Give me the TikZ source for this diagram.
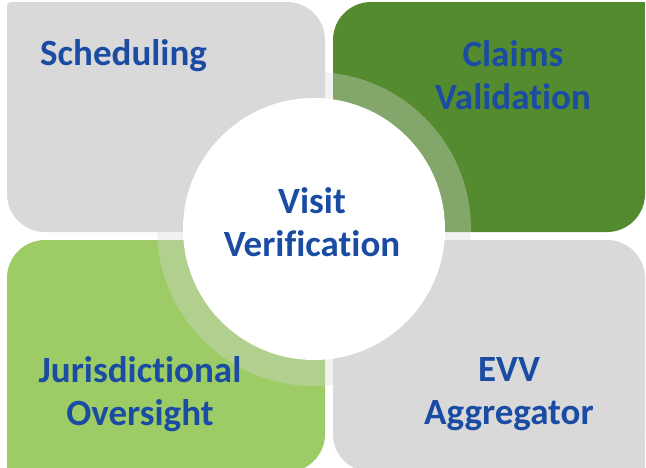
\documentclass[tikz,border=0pt]{standalone}
\usepackage{fontspec}
\setmainfont{Carlito}[Ligatures=NoCommon]
\usepackage{tikz}
\usetikzlibrary{positioning,backgrounds,calc}
\definecolor{boxGray}{HTML}{D9D9D9}
\definecolor{darkGreen}{HTML}{558B2F}
\definecolor{lightGreen}{HTML}{9DCB65}
\definecolor{txtBlue}{HTML}{1A4CA3}
\tikzset{
	lab/.style={text=txtBlue, align=center, inner sep=0pt,
		font=\fontsize{37}{43}\selectfont\bfseries},
	quad/.style={rounded corners=38pt},
}

\begin{document}
\begin{tikzpicture}[x=1pt, y=-1pt]
				\useasboundingbox (0,0) rectangle (646,467);
				% the four quadrants, outer corner kept square
				\fill[boxGray, quad] (7,2) rectangle (325,232);
				\fill[boxGray, rounded corners=4pt] (7,2) rectangle (60,60);
				\fill[darkGreen, quad] (333,2) rectangle (645,232);
				\fill[darkGreen] (590,2) rectangle (645,60);
				\fill[lightGreen, quad] (7,240) rectangle (325,472);
				\fill[lightGreen] (7,420) rectangle (60,472);
				\fill[boxGray, quad] (333,240) rectangle (645,472);
				\fill[boxGray] (590,420) rectangle (645,472);
				
				\coordinate (ctr) at (314,229);
				\fill[boxGray, opacity=0.35, even odd rule] (ctr) circle (157) (ctr) circle (131);
				\node[circle, fill=white, minimum size=262pt, inner sep=0pt] (hub) at (ctr) {};
				
				\node[lab, anchor=base west] (sched) at (40,65) {Scheduling};
				\node[lab] (claims) at (513,75) {Claims\\Validation};
				\node[lab] (visit) at (312,222) {Visit\\Verification};
				\node[lab] (juris) at (140,394) {Jurisdictional\\Oversight};
				\node[lab] (evv) at (509,394) {EVV\\Aggregator};
			\end{tikzpicture}
\end{document}
